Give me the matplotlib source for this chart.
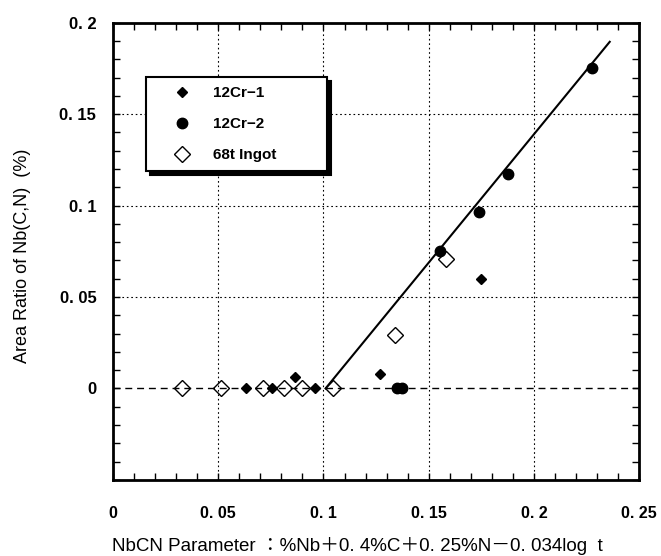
import numpy as np
import matplotlib
matplotlib.use("Agg")
import matplotlib.pyplot as plt
from matplotlib.ticker import MultipleLocator

# ---- dati ----
cr1_x = [0.063, 0.0755, 0.0864, 0.096, 0.127, 0.175]
cr1_y = [0.0, 0.0, 0.006, 0.0, 0.008, 0.0596]

cr2_x = [0.135, 0.1375, 0.1554, 0.1738, 0.1876, 0.2275]
cr2_y = [0.0, 0.0, 0.0754, 0.0967, 0.1175, 0.1754]

ingot_x = [0.0327, 0.0512, 0.0712, 0.081, 0.0898, 0.1045, 0.134, 0.158]
ingot_y = [0.0, 0.0, 0.0, 0.0, 0.0, 0.0, 0.029, 0.071]

fit_x = [0.101, 0.236]
fit_y = [0.0, 0.1896]

x_ticks = [0, 0.05, 0.1, 0.15, 0.2, 0.25]
x_labels = ["0", "0. 05", "0. 1", "0. 15", "0. 2", "0. 25"]
y_ticks = [-0.05, 0, 0.05, 0.1, 0.15, 0.2]
y_labels = ["", "0", "0. 05", "0. 1", "0. 15", "0. 2"]

fam = ["Liberation Sans", "Noto Sans CJK JP", "DejaVu Sans"]

fig = plt.figure(figsize=(6.61, 5.56), dpi=100)
ax = fig.add_axes([0.171, 0.137, 0.796, 0.822])

# linea tratteggiata a zero e retta di regressione
ax.plot([0, 0.25], [0, 0], color="black", linestyle=(0, (5, 3.5)), linewidth=1.0, zorder=2)
ax.plot(fit_x, fit_y, color="black", linewidth=1.5, zorder=3)

ax.plot(cr1_x, cr1_y, linestyle="none", marker="D", markersize=5.5,
        color="black", label="12Cr\u22121", zorder=4)
ax.plot(cr2_x, cr2_y, linestyle="none", marker="o", markersize=7.5,
        color="black", label="12Cr\u22122", zorder=4)
ax.plot(ingot_x, ingot_y, linestyle="none", marker="D", markersize=8,
        markerfacecolor="none", markeredgecolor="black", markeredgewidth=1.0,
        label="68t Ingot", zorder=5)

ax.set_xlim(0, 0.25)
ax.set_ylim(-0.05, 0.2)
ax.set_xticks(x_ticks)
ax.set_xticklabels(x_labels, family=fam, fontweight="bold", fontsize=11.5)
ax.set_yticks(y_ticks)
ax.set_yticklabels(y_labels, family=fam, fontweight="bold", fontsize=12)
ax.xaxis.set_minor_locator(MultipleLocator(0.01))
ax.yaxis.set_minor_locator(MultipleLocator(0.01))
ax.tick_params(which="both", direction="in", top=True, right=True, length=5, width=1)
ax.tick_params(axis="x", pad=19)
ax.tick_params(axis="y", pad=12)

ax.grid(True, which="major", linestyle=(0, (1.5, 2.5)), color="black", linewidth=0.8)
# niente griglia punteggiata sulla linea dello zero (c'è già il tratteggio)
for t in ax.yaxis.get_major_ticks():
    if abs(t.get_loc()) < 1e-9:
        t.gridline.set_visible(False)
for s in ax.spines.values():
    s.set_linewidth(2)

leg = ax.legend(loc="upper left", bbox_to_anchor=(0.063, 0.882, 0.344, 0.0),
                mode="expand", frameon=True,
                shadow={"color": "black", "alpha": 1.0, "ox": 3, "oy": -3},
                fancybox=False, edgecolor="black",
                prop={"family": fam, "weight": "bold", "size": 11},
                borderpad=0.6, labelspacing=1.12, handletextpad=0.3,
                handlelength=3.5, borderaxespad=0)
leg.get_frame().set_linewidth(1.5)

fig.text(23 / 661, 1 - 256 / 556, "Area Ratio of Nb(C,N)  (%)", rotation=90,
         ha="center", va="center", fontsize=13, family=fam)
fig.text(357 / 661, 1 - 546 / 556,
         "NbCN Parameter \uff1a%Nb\uff0b0. 4%C\uff0b0. 25%N\uff0d0. 034log  t",
         ha="center", va="center", fontsize=13.5, family=fam)

fig.savefig("out.png", dpi=100)
